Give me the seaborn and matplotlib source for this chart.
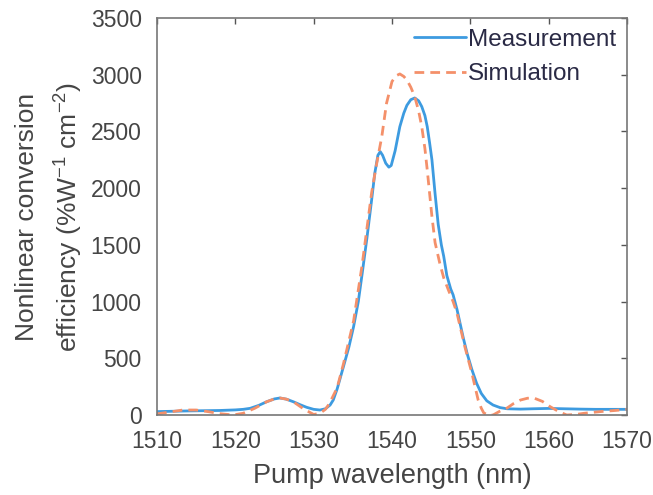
import numpy as np
import pandas as pd
import matplotlib
matplotlib.use("Agg")
from matplotlib import pyplot as plt
import seaborn as sns

# values
meas_wl = [1510.0, 1512, 1514, 1516, 1518, 1520, 1521, 1521.9, 1523, 1524,
           1525, 1525.7, 1526.5, 1527.4, 1528.3, 1529.1, 1530, 1530.8,
           1531.5, 1532.1, 1532.5, 1533.0, 1533.8, 1534.5, 1535.1, 1535.7,
           1536.2, 1536.8, 1537.4, 1537.8, 1538.2, 1538.5, 1538.8, 1539.2,
           1539.6, 1539.9, 1540.4, 1541.0, 1541.5, 1541.9, 1542.4, 1542.9,
           1543.4, 1543.8, 1544.2, 1544.5, 1544.8, 1545.1, 1545.5, 1545.9,
           1546.3, 1546.6, 1547.0, 1547.5, 1547.8, 1548.3, 1549.1, 1549.6,
           1550.2, 1550.8, 1551.4, 1552.1, 1552.9, 1553.8, 1554.7, 1556.4,
           1558, 1560, 1562, 1564, 1566, 1568, 1570]
meas_eff = [30, 33, 36, 38, 40, 45, 50, 59, 85, 117,
            142, 150, 140, 117, 90, 68, 50, 44,
            55, 88, 132, 230, 426, 600, 780, 1000,
            1250, 1560, 1896, 2130, 2290, 2322, 2290, 2220,
            2185, 2200, 2330, 2542, 2660, 2730, 2780, 2795,
            2770, 2719, 2640, 2542, 2400, 2249, 1950, 1680,
            1500, 1400, 1230, 1110, 1060, 930, 680, 540,
            400, 280, 190, 125, 88, 65, 55, 52,
            55, 58, 55, 52, 50, 50, 50]

sim_wl = [1510.0, 1511.5, 1513.3, 1515, 1516.5, 1518, 1519.7, 1521, 1522.5,
          1524, 1525, 1525.7, 1526.5, 1527.4, 1528.8, 1530, 1530.8, 1531.5,
          1532, 1533, 1533.8, 1535.1, 1536.2, 1537.4, 1538.0, 1538.7, 1539.3,
          1540.0, 1540.5, 1541.0, 1541.5, 1541.9, 1542.4, 1542.9, 1543.4,
          1543.8, 1544.2, 1544.5, 1545.1, 1545.5, 1546.1, 1546.6, 1547.2,
          1547.8, 1548.3, 1549.3, 1550.2, 1551.0, 1551.4, 1551.7, 1552.2,
          1552.9, 1553.8, 1554.7, 1555.5, 1556.4, 1557.3, 1558.1, 1559.2,
          1560.2, 1561.3, 1562.3, 1563.5, 1564.5, 1566.6, 1568.5, 1570]
sim_eff = [10, 25, 44, 44, 30, 12, 0, 15, 60,
           117, 142, 150, 140, 117, 50, 5, 15, 50,
           100, 240, 450, 830, 1330, 1960, 2200, 2455, 2748,
           2940, 2990, 3007, 2985, 2954, 2890, 2807, 2680,
           2542, 2350, 2160, 1749, 1520, 1338, 1210, 1102,
           1000, 897, 602, 368, 132, 60, 20, 0,
           0, 35, 62, 100, 132, 148, 150, 120,
           73, 30, 0, 5, 15, 30, 40, 50]

df = pd.concat([
    pd.DataFrame({"wl": meas_wl, "eff": meas_eff, "kind": "Measurement"}),
    pd.DataFrame({"wl": sim_wl, "eff": sim_eff, "kind": "Simulation"}),
])

sns.set_style("white")
plt.rcParams["font.family"] = ["Liberation Sans", "DejaVu Sans"]
plt.rcParams["mathtext.default"] = "regular"

fig = plt.figure(figsize=(6.53, 4.95), dpi=100)
ax = fig.add_axes([0.2404, 0.1616, 0.7198, 0.802])

ax = sns.lineplot(data=df, x="wl", y="eff", hue="kind", style="kind",
                  palette={"Measurement": "#3d9be0", "Simulation": "#f4906a"},
                  dashes={"Measurement": "", "Simulation": (3.5, 2.2)},
                  linewidth=2.0, ax=ax, sort=False)
for ln in ax.get_lines():
    ln.set_solid_joinstyle("round")
    ln.set_dash_joinstyle("round")

ax.set_xlim(1510, 1570)
ax.set_ylim(0, 3500)
ax.set_xticks(range(1510, 1571, 10))
ax.set_yticks(range(0, 3501, 500))
ax.tick_params(direction="in", length=4, top=True, right=True,
               labelsize=16.5, labelcolor="#454545", color="#555555", width=1)
ax.tick_params(axis="x", pad=11)
ax.tick_params(axis="y", pad=11)
for s in ax.spines.values():
    s.set_color("#777777")
    s.set_linewidth(1.2)

ax.set_xlabel("Pump wavelength (nm)", fontsize=19.5, color="#454545", labelpad=7)
ax.set_ylabel("Nonlinear conversion\nefficiency (%W$^{-1}$ cm$^{-2}$)",
              fontsize=19, color="#454545", labelpad=4, linespacing=1.55)

leg = ax.legend(loc="upper right", frameon=False, fontsize=17.5,
                handlelength=2.1, handletextpad=0.1, labelspacing=0.5,
                borderaxespad=0.1, borderpad=0.35, title=None)
for t in leg.get_texts():
    t.set_color("#2a2a45")

fig.savefig("out.png", dpi=100)
